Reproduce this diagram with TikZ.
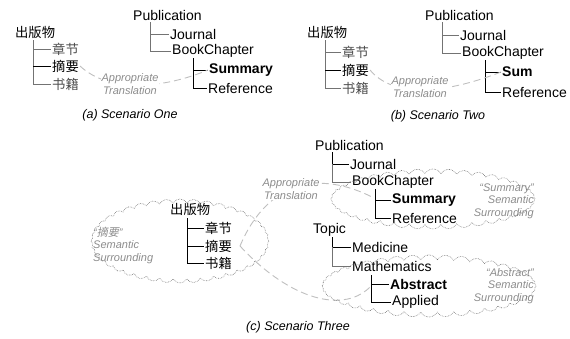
\documentclass[tikz,border=0pt]{standalone}
\usepackage{fontspec}
\setmainfont{Liberation Sans}
\newfontfamily\cjk{Noto Sans CJK SC}
\newfontfamily\cjkit[FakeSlant=0.2]{Noto Sans CJK SC}
\usetikzlibrary{shapes.symbols}

\tikzset{
  term/.style={anchor=west, inner sep=1pt, font=\fontsize{14}{16}\selectfont},
  focus/.style={anchor=west, inner sep=1pt, font=\fontsize{14}{16}\selectfont\bfseries},
  hanzi/.style={anchor=west, inner sep=1pt, font=\cjk\fontsize{13.3}{16}\selectfont},
  branch/.style={line width=0.9pt, black},
  faint/.style={line width=0.9pt, black!55},
  transl/.style={black!25, line width=0.9pt, dash pattern=on 7pt off 4pt},
  note/.style={font=\fontsize{11}{12.5}\selectfont\itshape, text=black!45, inner sep=1pt},
  caption/.style={font=\fontsize{12.5}{14}\selectfont\itshape},
  puff/.style={cloud, cloud puffs=40, cloud puff arc=120, cloud ignores aspect,
    draw=black!55, densely dotted, line width=0.6pt}
}

\begin{document}
\begin{tikzpicture}[x=1pt, y=-1pt]
        \useasboundingbox (0,0) rectangle (570,338);

        % Scenario One: Chinese tree
        \node[hanzi] (cbA) at (14,32) {出版物};
        \coordinate (vcA) at (33,40);
        \node[hanzi, text=black!70] (zjA) at (51,49) {章节};
        \node[hanzi] (zyA) at (51,66) {摘要};
        \node[hanzi, text=black!70] (sjA) at (51,84) {书籍};
        \draw[faint] (vcA) |- (zjA.west);
        \draw[faint] (vcA) |- (sjA.west);
        \draw[branch] (vcA |- zyA.west) -- (zyA.west);

        % Scenario One: English tree
        \node[term] (pubA) at (132,15) {Publication};
        \coordinate (vpA) at (150,22);
        \node[term] (jouA) at (169,34) {Journal};
        \node[term] (bokA) at (171,51) {BookChapter};
        \coordinate (vbA) at (193,58);
        \node[focus] (sumA) at (208,70) {Summary};
        \node[term] (refA) at (207,88) {Reference};
        \draw[faint] (vpA) |- (jouA.west);
        \draw[faint] (vpA) |- (bokA.west);
        \draw[branch] (vbA) |- (refA.west);
        \draw[branch] (vbA |- sumA.west) -- (sumA.west);

        \draw[transl] (zyA.east) .. controls (110,94) and (165,88) .. (sumA.west);
        \node[note, fill=white, align=center] (trA) at (130,84) {Appropriate\\Translation};
        \node[caption] (capA) at (130,115) {(a) Scenario One};

        % Scenario Two: Chinese tree
        \node[hanzi] (cbB) at (306,32) {出版物};
        \coordinate (vcB) at (325,40);
        \node[hanzi, text=black!70] (zjB) at (341,52) {章节};
        \node[hanzi] (zyB) at (341,70) {摘要};
        \node[hanzi, text=black!70] (sjB) at (341,88) {书籍};
        \draw[faint] (vcB) |- (zjB.west);
        \draw[faint] (vcB) |- (sjB.west);
        \draw[branch] (vcB |- zyB.west) -- (zyB.west);

        % Scenario Two: English tree
        \node[term] (pubB) at (424,15) {Publication};
        \coordinate (vpB) at (442,22);
        \node[term] (jouB) at (459,35) {Journal};
        \node[term] (bokB) at (461,53) {BookChapter};
        \coordinate (vbB) at (485,60);
        \node[focus] (sumB) at (501,72) {Sum};
        \node[term] (refB) at (501,92) {Reference};
        \draw[faint] (vpB) |- (jouB.west);
        \draw[faint] (vpB) |- (bokB.west);
        \draw[branch] (vbB) |- (refB.west);
        \draw[branch] (vbB |- sumB.west) -- (sumB.west);

        \draw[transl] (zyB.east) .. controls (395,100) and (450,92) .. (sumB.west);
        \node[note, fill=white, align=center] (trB) at (420,87) {Appropriate\\Translation};
        \node[caption] (capB) at (438,116) {(b) Scenario Two};

        % Scenario Three: translation curves first
        \coordinate (tfC) at (240,246);
        \coordinate (tsC) at (374,198);
        \coordinate (taC) at (372,285);
        \draw[transl] (tfC) .. controls (268,180) and (320,170) .. (tsC);
        \draw[transl] (tfC) .. controls (290,300) and (345,315) .. (taC);
        \node[note, fill=white, align=center] (trC) at (291,189) {Appropriate\\Translation};

        % Scenario Three: Chinese tree in its cloud
        \node[puff, minimum width=178pt, minimum height=84pt] (clC) at (180,241) {};
        \node[hanzi] (cbC) at (169,209) {出版物};
        \coordinate (vcC) at (187,218);
        \node[hanzi] (zjC) at (204,228) {章节};
        \node[hanzi] (zyC) at (204,246) {摘要};
        \node[hanzi] (sjC) at (204,263) {书籍};
        \draw[branch] (vcC) |- (zjC.west);
        \draw[branch] (vcC) |- (sjC.west);
        \draw[branch] (vcC |- zyC.west) -- (zyC.west);
        \node[note, anchor=west, align=left] (smC) at (92,245) {``{\cjkit 摘要}''\\Semantic\\Surrounding};

        % Scenario Three: Publication tree
        \node[term] (pubC) at (314,145) {Publication};
        \coordinate (vpC) at (332,152);
        \node[term] (jouC) at (349,164) {Journal};
        \node[term] (bokC) at (351,182) {BookChapter};
        \coordinate (vbC) at (375,189);
        \node[focus] (sumC) at (391,200) {Summary};
        \node[term] (refC) at (391,218) {Reference};
        \draw[branch] (vpC) |- (jouC.west);
        \draw[faint] (vpC |- jouC.west) |- (bokC.west);
        \draw[branch] (vbC) |- (refC.west);
        \draw[branch] (vbC |- sumC.west) -- (sumC.west);

        % Scenario Three: Topic tree
        \node[term] (topC) at (312,230) {Topic};
        \coordinate (vtC) at (332,237);
        \node[term] (medC) at (351,247) {Medicine};
        \node[term] (matC) at (351,266) {Mathematics};
        \coordinate (vmC) at (371,275);
        \node[focus] (absC) at (389,284) {Abstract};
        \node[term] (appC) at (391,302) {Applied};
        \draw[branch] (vtC) |- (medC.west);
        \draw[faint] (vtC |- medC.west) |- (matC.west);
        \draw[branch] (vmC) |- (appC.west);
        \draw[branch] (vmC |- absC.west) -- (absC.west);

        % Scenario Three: right clouds and their notes
        \node[note, anchor=east, align=right] (ssC) at (535,201) {``Summary''\\Semantic\\Surrounding};
        \node[note, anchor=east, align=right] (saC) at (535,286) {``Abstract''\\Semantic\\Surrounding};
        \node[puff, minimum width=204pt, minimum height=60pt] (csC) at (433,199) {};
        \node[puff, minimum width=214pt, minimum height=62pt] (caC) at (429,286) {};

        \node[caption] (capC) at (298,327) {(c) Scenario Three};
\end{tikzpicture}
\end{document}
